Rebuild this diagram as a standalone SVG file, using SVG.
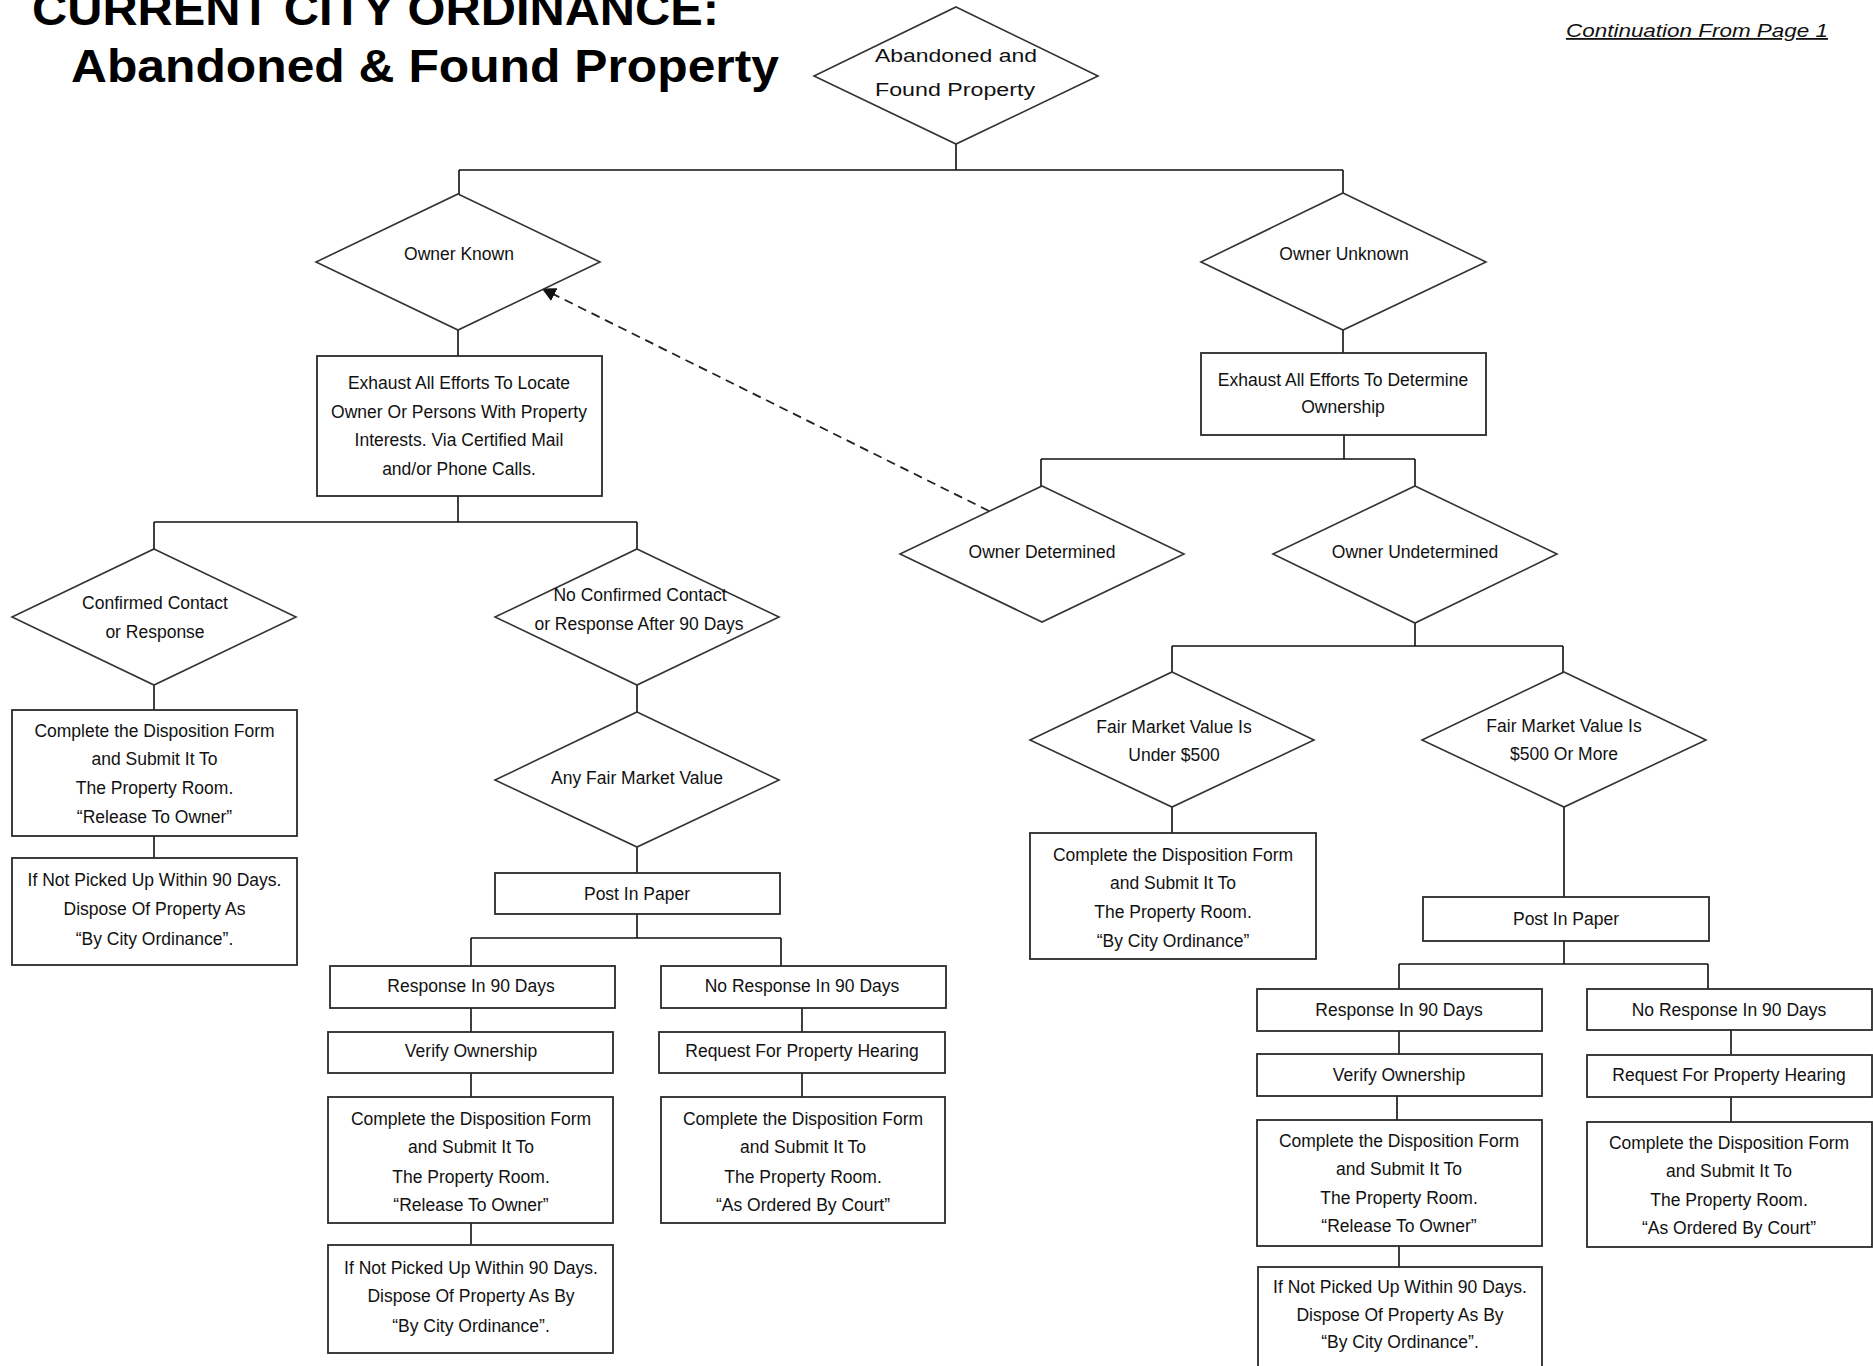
<svg xmlns="http://www.w3.org/2000/svg" width="1873" height="1366" viewBox="0 0 1873 1366">
<defs>
<style>
.bx{fill:#fff;stroke:#2a2a2a;stroke-width:1.8}
.dm{fill:#fff;stroke:#333;stroke-width:1.6}
.t{font-family:"Liberation Sans",Arial,sans-serif;font-size:17.5px;fill:#111;text-anchor:middle}
.c{fill:none;stroke:#111;stroke-width:1.6}
.d{fill:none;stroke:#222;stroke-width:1.8;stroke-dasharray:9 6}
.title{font-family:"Liberation Sans",Arial,sans-serif;font-weight:bold;font-size:46px;fill:#000}
</style>
<marker id="ah" viewBox="0 0 10 10" refX="9" refY="5" markerWidth="14" markerHeight="14" markerUnits="userSpaceOnUse" orient="auto">
<path d="M0,0 L10,5 L0,10 z" fill="#111"/>
</marker>
</defs>
<rect width="1873" height="1366" fill="#fff"/>

<g id="title">
<text class="title" x="32" y="25" textLength="687" lengthAdjust="spacingAndGlyphs">CURRENT CITY ORDINANCE:</text>
<text class="title" x="71" y="82" textLength="708" lengthAdjust="spacingAndGlyphs">Abandoned &amp; Found Property</text>
<text x="1566" y="37" font-family="'Liberation Sans',Arial,sans-serif" font-style="italic" font-size="18" fill="#111" text-decoration="underline" textLength="262" lengthAdjust="spacingAndGlyphs">Continuation From Page 1</text>
</g>

<g id="connectors">
<path class="c" d="M956,144 V170 M459,170 H1343 M459,170 V194 M1343,170 V193"/>
<path class="c" d="M458,330 V356 M1343,330 V353"/>
<path class="c" d="M1344,435 V459 M1041,459 H1415 M1041,459 V486 M1415,459 V486"/>
<path class="c" d="M458,496 V522 M154,522 H637 M154,522 V549 M637,522 V549"/>
<path class="c" d="M154,685 V710 M154,836 V858"/>
<path class="c" d="M637,685 V712 M637,847 V873 M637,914 V938 M471,938 H781 M471,938 V966 M781,938 V966"/>
<path class="c" d="M471,1008 V1032 M802,1008 V1032 M471,1073 V1097 M802,1073 V1097 M471,1223 V1245"/>
<path class="c" d="M1415,623 V646 M1172,646 H1563 M1172,646 V672 M1563,646 V672"/>
<path class="c" d="M1172,807 V833 M1564,807 V897 M1564,941 V964 M1399,964 H1708 M1399,964 V989 M1708,964 V989"/>
<path class="c" d="M1399,1031 V1054 M1731,1030 V1055 M1397,1096 V1120 M1731,1097 V1122 M1399,1246 V1267"/>
<line class="d" x1="989" y1="511" x2="543" y2="289" marker-end="url(#ah)"/>
</g>

<g id="n0"><polygon class="dm" points="956,7 1098,76 956,144 814,76"/>
<text class="t" x="956" y="62" font-size="20" textLength="162" lengthAdjust="spacingAndGlyphs">Abandoned and</text>
<text class="t" x="955" y="96" font-size="20" textLength="160" lengthAdjust="spacingAndGlyphs">Found Property</text></g>

<g id="n1"><polygon class="dm" points="458,194 600,262 458,330 316,262"/>
<text class="t" x="459" y="260">Owner Known</text></g>

<g id="n2"><polygon class="dm" points="1343,193 1486,262 1343,330 1201,262"/>
<text class="t" x="1344" y="260">Owner Unknown</text></g>

<g id="n3"><rect class="bx" x="317" y="356" width="285" height="140"/>
<text class="t" x="459" y="389">Exhaust All Efforts To Locate</text>
<text class="t" x="459" y="417.5">Owner Or Persons With Property</text>
<text class="t" x="459" y="446">Interests.  Via Certified Mail</text>
<text class="t" x="459" y="474.5">and/or Phone Calls.</text></g>

<g id="n4"><rect class="bx" x="1201" y="353" width="285" height="82"/>
<text class="t" x="1343" y="386">Exhaust All Efforts To Determine</text>
<text class="t" x="1343" y="413">Ownership</text></g>

<g id="n5"><polygon class="dm" points="1042,486 1184,554 1042,622 900,554"/>
<text class="t" x="1042" y="558">Owner Determined</text></g>

<g id="n6"><polygon class="dm" points="1415,486 1557,554 1415,623 1273,554"/>
<text class="t" x="1415" y="558">Owner Undetermined</text></g>

<g id="n7"><polygon class="dm" points="154,549 296,617 154,685 12,617"/>
<text class="t" x="155" y="609">Confirmed Contact</text>
<text class="t" x="155" y="638">or Response</text></g>

<g id="n8"><polygon class="dm" points="637,549 779,617 637,685 495,617"/>
<text class="t" x="640" y="601">No Confirmed Contact</text>
<text class="t" x="639" y="630">or Response After 90 Days</text></g>

<g id="n9"><rect class="bx" x="12" y="710" width="285" height="126"/>
<text class="t" x="154.5" y="737">Complete the Disposition Form</text>
<text class="t" x="154.5" y="765">and Submit It To</text>
<text class="t" x="154.5" y="794">The Property Room.</text>
<text class="t" x="154.5" y="822.5">“Release To Owner”</text></g>

<g id="n10"><rect class="bx" x="12" y="858" width="285" height="107"/>
<text class="t" x="154.5" y="886">If Not Picked Up Within 90 Days.</text>
<text class="t" x="154.5" y="915">Dispose Of Property As</text>
<text class="t" x="154.5" y="945">“By City Ordinance”.</text></g>

<g id="n11"><polygon class="dm" points="637,712 779,780 637,847 495,780"/>
<text class="t" x="637" y="784">Any Fair Market Value</text></g>

<g id="n12"><rect class="bx" x="495" y="873" width="285" height="41"/>
<text class="t" x="637" y="900">Post In Paper</text></g>

<g id="n13"><rect class="bx" x="330" y="966" width="285" height="42"/>
<text class="t" x="471" y="992">Response In 90 Days</text></g>

<g id="n14"><rect class="bx" x="661" y="966" width="285" height="42"/>
<text class="t" x="802" y="992">No Response In 90 Days</text></g>

<g id="n15"><rect class="bx" x="328" y="1032" width="285" height="41"/>
<text class="t" x="471" y="1057">Verify Ownership</text></g>

<g id="n16"><rect class="bx" x="659" y="1032" width="286" height="41"/>
<text class="t" x="802" y="1057">Request For Property Hearing</text></g>

<g id="n17"><rect class="bx" x="328" y="1097" width="285" height="126"/>
<text class="t" x="471" y="1124.5">Complete the Disposition Form</text>
<text class="t" x="471" y="1153">and Submit It To</text>
<text class="t" x="471" y="1182.5">The Property Room.</text>
<text class="t" x="471" y="1211">“Release To Owner”</text></g>

<g id="n18"><rect class="bx" x="661" y="1097" width="284" height="126"/>
<text class="t" x="803" y="1124.5">Complete the Disposition Form</text>
<text class="t" x="803" y="1153">and Submit It To</text>
<text class="t" x="803" y="1182.5">The Property Room.</text>
<text class="t" x="803" y="1211">“As Ordered By Court”</text></g>

<g id="n19"><rect class="bx" x="328" y="1245" width="285" height="108"/>
<text class="t" x="471" y="1274">If Not Picked Up Within 90 Days.</text>
<text class="t" x="471" y="1302">Dispose Of Property As By</text>
<text class="t" x="471" y="1332">“By City Ordinance”.</text></g>

<g id="n20"><polygon class="dm" points="1172,672 1314,740 1172,807 1030,740"/>
<text class="t" x="1174" y="733">Fair Market Value Is</text>
<text class="t" x="1174" y="761">Under $500</text></g>

<g id="n21"><polygon class="dm" points="1564,672 1706,740 1564,807 1422,740"/>
<text class="t" x="1564" y="732">Fair Market Value Is</text>
<text class="t" x="1564" y="760">$500 Or More</text></g>

<g id="n22"><rect class="bx" x="1030" y="833" width="286" height="126"/>
<text class="t" x="1173" y="861">Complete the Disposition Form</text>
<text class="t" x="1173" y="889">and Submit It To</text>
<text class="t" x="1173" y="918">The Property Room.</text>
<text class="t" x="1173" y="947">“By City Ordinance”</text></g>

<g id="n23"><rect class="bx" x="1423" y="897" width="286" height="44"/>
<text class="t" x="1566" y="925">Post In Paper</text></g>

<g id="n24"><rect class="bx" x="1257" y="989" width="285" height="42"/>
<text class="t" x="1399" y="1016">Response In 90 Days</text></g>

<g id="n25"><rect class="bx" x="1587" y="989" width="285" height="41"/>
<text class="t" x="1729" y="1016">No Response In 90 Days</text></g>

<g id="n26"><rect class="bx" x="1257" y="1054" width="285" height="42"/>
<text class="t" x="1399" y="1081">Verify Ownership</text></g>

<g id="n27"><rect class="bx" x="1587" y="1055" width="285" height="42"/>
<text class="t" x="1729" y="1081">Request For Property Hearing</text></g>

<g id="n28"><rect class="bx" x="1257" y="1120" width="285" height="126"/>
<text class="t" x="1399" y="1147">Complete the Disposition Form</text>
<text class="t" x="1399" y="1175">and Submit It To</text>
<text class="t" x="1399" y="1204">The Property Room.</text>
<text class="t" x="1399" y="1232">“Release To Owner”</text></g>

<g id="n29"><rect class="bx" x="1587" y="1122" width="285" height="125"/>
<text class="t" x="1729" y="1149">Complete the Disposition Form</text>
<text class="t" x="1729" y="1177">and Submit It To</text>
<text class="t" x="1729" y="1206">The Property Room.</text>
<text class="t" x="1729" y="1234">“As Ordered By Court”</text></g>

<g id="n30"><rect class="bx" x="1258" y="1267" width="284" height="115"/>
<text class="t" x="1400" y="1293">If Not Picked Up Within 90 Days.</text>
<text class="t" x="1400" y="1320.5">Dispose Of Property As By</text>
<text class="t" x="1400" y="1348">“By City Ordinance”.</text></g>
</svg>
